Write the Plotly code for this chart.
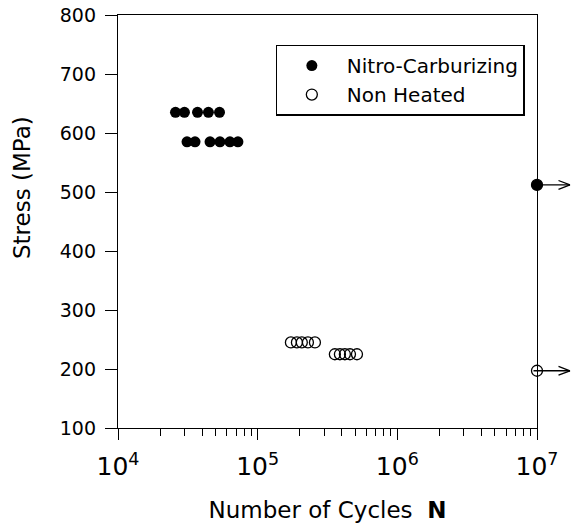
import math
import plotly.graph_objects as go

# Fatigue test results: cycles to failure and stress amplitude
nc_cycles = [25800, 29900, 37100, 44400, 53300,
             31200, 35600, 45600, 53700, 63300, 72200]
nc_stress = [635, 635, 635, 635, 635,
             585, 585, 585, 585, 585, 585]

nh_cycles = [173000, 191000, 207000, 229000, 257000,
             357000, 388000, 421000, 458000, 514000]
nh_stress = [245, 245, 245, 245, 245,
             225, 225, 225, 225, 225]

# Run-out specimens (no failure at the test limit)
runout_cycles = [1e7, 1e7]
runout_stress = [512, 197]
runout_filled = [True, False]

y_ticks = [100, 200, 300, 400, 500, 600, 700, 800]

FONT = "DejaVu Sans"
BLACK = "black"

fig = go.Figure()

fig.add_trace(go.Scatter(
    x=nc_cycles, y=nc_stress, mode="markers", name="Nitro-Carburizing",
    marker=dict(symbol="circle", size=11, color=BLACK),
))
fig.add_trace(go.Scatter(
    x=nh_cycles, y=nh_stress, mode="markers", name="Non Heated",
    marker=dict(symbol="circle-open", size=11, color=BLACK,
                line=dict(width=1.3, color=BLACK)),
))

annotations = [dict(
    text="Stress (MPa)", textangle=-90, showarrow=False,
    xref="paper", yref="paper",
    x=(22 - 118) / 419, y=(428 - 188) / 413,
    xanchor="center", yanchor="middle",
    font=dict(family=FONT, size=23, color=BLACK),
)]

# Run-out points, each with an open-headed arrow pointing to the right
ARROW_LEN = 33
for cx, sy, filled in zip(runout_cycles, runout_stress, runout_filled):
    fig.add_trace(go.Scatter(
        x=[cx], y=[sy], mode="markers", showlegend=False, cliponaxis=False,
        marker=dict(symbol="circle" if filled else "circle-open", size=11,
                    color=BLACK, line=dict(width=1.3, color=BLACK)),
    ))
    # shaft and the two arms of the arrowhead, all ending at the tip
    for ax, ay in [(-ARROW_LEN - 5, 0), (-13, -5), (-13, 5)]:
        annotations.append(dict(
            text="", x=math.log10(cx), y=sy, xref="x", yref="y",
            xshift=ARROW_LEN, showarrow=True, arrowhead=0,
            arrowwidth=1.3, arrowcolor=BLACK,
            ax=ax, ay=ay, axref="pixel", ayref="pixel", standoff=0,
        ))

fig.update_layout(
    width=575, height=523,
    margin=dict(l=118, r=38, t=15, b=95),
    paper_bgcolor="white", plot_bgcolor="white",
    font=dict(family=FONT, color=BLACK, size=18),
    showlegend=True,
    legend=dict(
        x=0.376, y=0.928, xanchor="left", yanchor="top",
        bgcolor="white", bordercolor=BLACK, borderwidth=1.3,
        font=dict(family=FONT, size=20, color=BLACK),
        itemwidth=60, tracegroupgap=0,
    ),
    annotations=annotations,
)

fig.update_xaxes(
    type="log", range=[4, 7], dtick=1, exponentformat="power",
    automargin=False,
    showgrid=False, zeroline=False,
    showline=True, linecolor=BLACK, linewidth=1.3, mirror=True,
    ticks="outside", ticklen=11, tickwidth=1.3, tickcolor=BLACK,
    ticklabelstandoff=6,
    minor=dict(ticks="outside", ticklen=7, tickwidth=1.2, tickcolor=BLACK,
               dtick="D1", showgrid=False),
    tickfont=dict(family=FONT, size=20),
    title=dict(text="Number of Cycles\u00a0\u00a0<b>N</b>",
               font=dict(family=FONT, size=23), standoff=23),
)
fig.update_yaxes(
    range=[100, 800], tickvals=y_ticks,
    automargin=False,
    showgrid=False, zeroline=False,
    showline=True, linecolor=BLACK, linewidth=1.3, mirror=True,
    ticks="outside", ticklen=12, tickwidth=1.3, tickcolor=BLACK,
    ticklabelstandoff=5,
    tickfont=dict(family=FONT, size=19),
)

fig.write_html("out.html")
